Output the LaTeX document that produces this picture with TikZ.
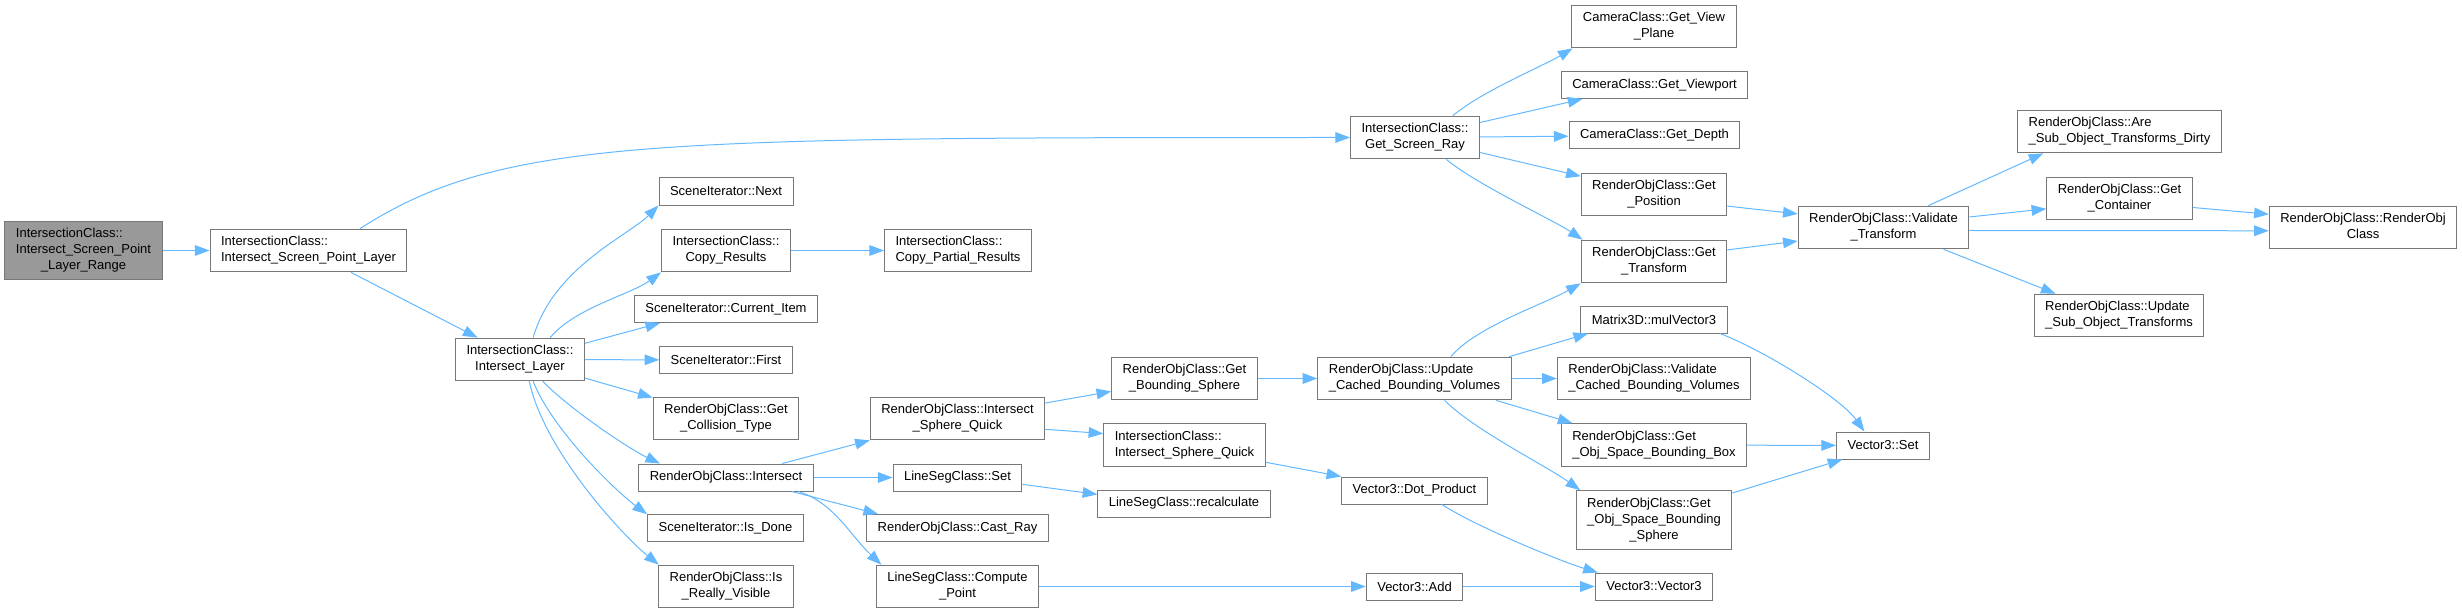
\documentclass[tikz,border=0pt]{standalone}
\usepackage{fontspec}
\setmainfont{Liberation Sans}
\usepackage{tikz}
\usetikzlibrary{arrows.meta}

\definecolor{boxline}{HTML}{787878}
\definecolor{rootfill}{HTML}{999999}
\definecolor{callblue}{HTML}{63B8FF}

% labels: first lines flush left, last line centred
\newcommand{\twoline}[2]{\begin{tabular}{@{}l@{}}#1\\\multicolumn{1}{@{}c@{}}{#2}\end{tabular}}
\newcommand{\threeline}[3]{\begin{tabular}{@{}l@{}}#1\\#2\\\multicolumn{1}{@{}c@{}}{#3}\end{tabular}}

\begin{document}
\begin{tikzpicture}[x=0.75pt, y=-0.75pt,
  funcbox/.style={draw=boxline, fill=white, line width=0.75pt, inner xsep=8.25pt, inner ysep=4pt,
    minimum height=20.25pt, font=\fontsize{9.75pt}{12pt}\selectfont},
  rootbox/.style={funcbox, fill=rootfill},
  callarrow/.style={draw=callblue, line width=0.75pt, -{Triangle[length=11pt, width=8pt]}}]

    \useasboundingbox (0,0) rectangle (2462,613);

    % Caller chain
    \node[rootbox] (root) at (83.5,250.5) {\threeline{IntersectionClass::}{Intersect\_Screen\_Point}{\_Layer\_Range}};
    \node[funcbox] (ispl) at (308.5,250.5) {\twoline{IntersectionClass::}{Intersect\_Screen\_Point\_Layer}};
    \node[funcbox] (il) at (520,359.5) {\twoline{IntersectionClass::}{Intersect\_Layer}};

    % Intersect_Layer callees
    \node[funcbox] (next) at (726,191.5) {SceneIterator::Next};
    \node[funcbox] (cres) at (726,250.5) {\twoline{IntersectionClass::}{Copy\_Results}};
    \node[funcbox] (curit) at (726,309) {SceneIterator::Current\_Item};
    \node[funcbox] (first) at (726,360) {SceneIterator::First};
    \node[funcbox] (coll) at (726,418.5) {\twoline{RenderObjClass::Get}{\_Collision\_Type}};
    \node[funcbox] (roint) at (726,477.5) {RenderObjClass::Intersect};
    \node[funcbox] (isdone) at (725.5,528) {SceneIterator::Is\_Done};
    \node[funcbox] (visible) at (726,586.5) {\twoline{RenderObjClass::Is}{\_Really\_Visible}};

    % Next column
    \node[funcbox] (cpres) at (958,250.5) {\twoline{IntersectionClass::}{Copy\_Partial\_Results}};
    \node[funcbox] (rosq) at (957.5,418.5) {\twoline{RenderObjClass::Intersect}{\_Sphere\_Quick}};
    \node[funcbox] (lsset) at (957.5,477.5) {LineSegClass::Set};
    \node[funcbox] (cast) at (957.5,528) {RenderObjClass::Cast\_Ray};
    \node[funcbox] (comp) at (957.5,586.5) {\twoline{LineSegClass::Compute}{\_Point}};

    \node[funcbox] (gbs) at (1184.5,378.5) {\twoline{RenderObjClass::Get}{\_Bounding\_Sphere}};
    \node[funcbox] (icsq) at (1184.5,445) {\twoline{IntersectionClass::}{Intersect\_Sphere\_Quick}};
    \node[funcbox] (recalc) at (1184,503.5) {LineSegClass::recalculate};

    \node[funcbox] (gsr) at (1415,137.5) {\twoline{IntersectionClass::}{Get\_Screen\_Ray}};
    \node[funcbox] (ucbv) at (1414.5,378.5) {\twoline{RenderObjClass::Update}{\_Cached\_Bounding\_Volumes}};
    \node[funcbox] (dot) at (1414.5,490.5) {Vector3::Dot\_Product};
    \node[funcbox] (add) at (1414.5,586.5) {Vector3::Add};

    % Camera / transform column
    \node[funcbox] (vplane) at (1654,26.5) {\twoline{CameraClass::Get\_View}{\_Plane}};
    \node[funcbox] (vport) at (1654.5,85) {CameraClass::Get\_Viewport};
    \node[funcbox] (depth) at (1654.5,135.5) {CameraClass::Get\_Depth};
    \node[funcbox] (gpos) at (1654,194.5) {\twoline{RenderObjClass::Get}{\_Position}};
    \node[funcbox] (gtrans) at (1654,261.5) {\twoline{RenderObjClass::Get}{\_Transform}};
    \node[funcbox] (mulv) at (1654,319.5) {Matrix3D::mulVector3};
    \node[funcbox] (vcbv) at (1654,378.5) {\twoline{RenderObjClass::Validate}{\_Cached\_Bounding\_Volumes}};
    \node[funcbox] (osbb) at (1654,445) {\twoline{RenderObjClass::Get}{\_Obj\_Space\_Bounding\_Box}};
    \node[funcbox] (osbs) at (1654,520) {\threeline{RenderObjClass::Get}{\_Obj\_Space\_Bounding}{\_Sphere}};
    \node[funcbox] (vthree) at (1654,586.5) {Vector3::Vector3};

    \node[funcbox] (vt) at (1883.5,227.5) {\twoline{RenderObjClass::Validate}{\_Transform}};
    \node[funcbox] (vset) at (1883,445.5) {Vector3::Set};

    \node[funcbox] (dirty) at (2119.5,131.5) {\twoline{RenderObjClass::Are}{\_Sub\_Object\_Transforms\_Dirty}};
    \node[funcbox] (cont) at (2119.5,198.5) {\twoline{RenderObjClass::Get}{\_Container}};
    \node[funcbox] (usot) at (2119,315.5) {\twoline{RenderObjClass::Update}{\_Sub\_Object\_Transforms}};
    \node[funcbox] (roc) at (2363,227.5) {\twoline{RenderObjClass::RenderObj}{Class}};

    % Calls from the caller chain
    \draw[callarrow] (root) -- (ispl);
    \draw[callarrow] (ispl.23) .. controls +(140,-90) and +(-700,0) .. (gsr.west);
    \draw[callarrow] (ispl) -- (il);

    % Calls from Intersect_Layer
    \draw[callarrow] (il.59) .. controls +(20,-70) and +(-30,30) .. (next.south west);
    \draw[callarrow] (il.36) .. controls +(25,-30) and +(-30,22) .. (cres.south west);
    \draw[callarrow] (il.14) -- (curit.192);
    \draw[callarrow] (il) -- (first);
    \draw[callarrow] (il) -- (coll);
    \draw[callarrow] (il.-44) .. controls +(30,30) and +(-30,-14) .. (roint.168);
    \draw[callarrow] (il.-59) .. controls +(20,50) and +(-30,-22) .. (isdone.170);
    \draw[callarrow] (il.-67) .. controls +(15,70) and +(-35,-28) .. (visible.162);

    \draw[callarrow] (cres) -- (cpres);

    % Calls from RenderObjClass::Intersect
    \draw[callarrow] (roint.14) -- (rosq.south west);
    \draw[callarrow] (roint) -- (lsset);
    \draw[callarrow] (roint.-12) -- (cast.170);
    \draw[callarrow] (roint.-11) .. controls +(35,10) and +(-30,-28) .. (comp.164);

    \draw[callarrow] (rosq.10) -- (gbs.190);
    \draw[callarrow] (rosq.-7) -- (icsq.172);
    \draw[callarrow] (lsset.-6) -- (recalc.174);
    \draw[callarrow] (gbs) -- (ucbv);
    \draw[callarrow] (icsq.-12) -- (dot.north west);
    \draw[callarrow] (comp) -- (add);
    \draw[callarrow] (dot.-27) .. controls +(30,20) and +(-40,-12) .. (vthree.166);
    \draw[callarrow] (add) -- (vthree);

    % Calls from Get_Screen_Ray
    \draw[callarrow] (gsr.30) .. controls +(30,-25) and +(-30,18) .. (vplane.195);
    \draw[callarrow] (gsr.13) -- (vport.191);
    \draw[callarrow] (gsr) -- (depth);
    \draw[callarrow] (gsr.-13) -- (gpos.166);
    \draw[callarrow] (gsr.-35) .. controls +(30,25) and +(-30,-20) .. (gtrans.163);
    \draw[callarrow] (gpos.-9) -- (vt.171);
    \draw[callarrow] (gtrans.9) -- (vt.189);

    % Calls from Update_Cached_Bounding_Volumes
    \draw[callarrow] (ucbv.31) .. controls +(25,-30) and +(-35,20) .. (gtrans.south west);
    \draw[callarrow] (ucbv.13) -- (mulv.192);
    \draw[callarrow] (ucbv) -- (vcbv);
    \draw[callarrow] (ucbv.-15) -- (osbb.165);
    \draw[callarrow] (ucbv.-36) .. controls +(30,30) and +(-35,-25) .. (osbs.158);
    \draw[callarrow] (mulv.-12) .. controls +(40,15) and +(-25,-35) .. (vset.143);
    \draw[callarrow] (osbb) -- (vset);
    \draw[callarrow] (osbs.19) -- (vset.199);

    % Calls from Validate_Transform
    \draw[callarrow] (vt.26) -- (dirty.196);
    \draw[callarrow] (vt.7) -- (cont.188);
    \draw[callarrow] (vt.-2) -- (roc.182);
    \draw[callarrow] (vt.-20) -- (usot.161);
    \draw[callarrow] (cont.-7) -- (roc.172);

\end{tikzpicture}
\end{document}
